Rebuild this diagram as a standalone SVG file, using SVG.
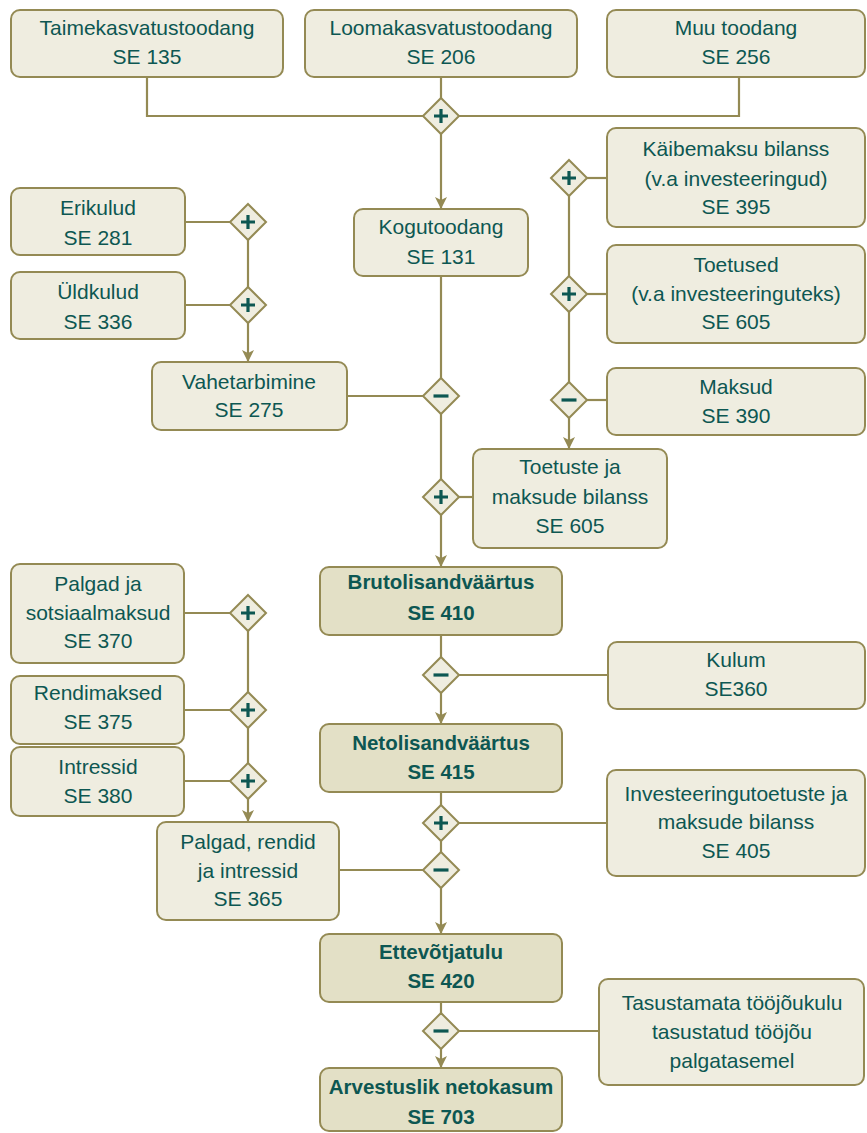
<svg xmlns="http://www.w3.org/2000/svg" width="867" height="1133" viewBox="0 0 867 1133">
<style>
.box{fill:#EFEDE0;stroke:#948A54;stroke-width:2}
.key{fill:#E3E0C6;stroke:#948A54;stroke-width:2}
.t{font-family:"Liberation Sans",Arial,sans-serif;font-size:21px;fill:#0D5752;text-anchor:middle}
.b{font-weight:bold;font-size:20.5px}
.ln{fill:none;stroke:#948A54;stroke-width:2.2}
.dm{fill:#EFEDE0;stroke:#948A54;stroke-width:2}
.sg{stroke:#0D5752;stroke-width:3.2;fill:none}
</style>
<defs>
<marker id="ah2" viewBox="0 0 12 12" refX="12" refY="6" markerWidth="12" markerHeight="12" markerUnits="userSpaceOnUse" orient="auto"><path d="M0,0 L12,6 L0,12 L3,6 z" fill="#948A54"/></marker>
<g id="plus"><path class="dm" d="M0,-18 L18,0 L0,18 L-18,0 Z"/><path class="sg" d="M-7,0 H7 M0,-7 V7"/></g>
<g id="minus"><path class="dm" d="M0,-18 L18,0 L0,18 L-18,0 Z"/><path class="sg" d="M-7.5,0 H7.5"/></g>
</defs>

<g id="connectors">
<path class="ln" d="M147,78 V116 H423"/>
<path class="ln" d="M441,78 V98"/>
<path class="ln" d="M739,78 V116 H459"/>
<path class="ln" d="M441,134 V209" marker-end="url(#ah2)"/>
<path class="ln" d="M185,222 H230"/>
<path class="ln" d="M185,305 H230"/>
<path class="ln" d="M248,240 V287"/>
<path class="ln" d="M248,323 V362" marker-end="url(#ah2)"/>
<path class="ln" d="M441,277 V378"/>
<path class="ln" d="M347,396 H423"/>
<path class="ln" d="M441,414 V479"/>
<path class="ln" d="M587,178 H607"/>
<path class="ln" d="M587,294 H607"/>
<path class="ln" d="M587,400 H607"/>
<path class="ln" d="M569,196 V276"/>
<path class="ln" d="M569,312 V382"/>
<path class="ln" d="M569,418 V449" marker-end="url(#ah2)"/>
<path class="ln" d="M473,497 H459"/>
<path class="ln" d="M441,515 V567" marker-end="url(#ah2)"/>
<path class="ln" d="M441,636 V657"/>
<path class="ln" d="M459,675 H608"/>
<path class="ln" d="M441,693 V724" marker-end="url(#ah2)"/>
<path class="ln" d="M184,613 H230"/>
<path class="ln" d="M184,710 H230"/>
<path class="ln" d="M184,781 H230"/>
<path class="ln" d="M248,631 V692"/>
<path class="ln" d="M248,728 V763"/>
<path class="ln" d="M248,799 V822" marker-end="url(#ah2)"/>
<path class="ln" d="M441,793 V805"/>
<path class="ln" d="M459,823 H607"/>
<path class="ln" d="M441,841 V852"/>
<path class="ln" d="M339,870 H423"/>
<path class="ln" d="M441,888 V934" marker-end="url(#ah2)"/>
<path class="ln" d="M441,1002 V1013"/>
<path class="ln" d="M459,1031 H599"/>
<path class="ln" d="M441,1049 V1068" marker-end="url(#ah2)"/>
</g>

<g id="ops">
<use href="#plus" x="441" y="116"/>
<use href="#plus" x="248" y="222"/>
<use href="#plus" x="248" y="305"/>
<use href="#minus" x="441" y="396"/>
<use href="#plus" x="569" y="178"/>
<use href="#plus" x="569" y="294"/>
<use href="#minus" x="569" y="400"/>
<use href="#plus" x="441" y="497"/>
<use href="#minus" x="441" y="675"/>
<use href="#plus" x="248" y="613"/>
<use href="#plus" x="248" y="710"/>
<use href="#plus" x="248" y="781"/>
<use href="#plus" x="441" y="823"/>
<use href="#minus" x="441" y="870"/>
<use href="#minus" x="441" y="1031"/>
</g>

<g id="n-taime"><rect class="box" x="11" y="10" width="272" height="67" rx="9"/>
<text class="t" x="147" y="35">Taimekasvatustoodang</text><text class="t" x="147" y="64">SE 135</text></g>
<g id="n-looma"><rect class="box" x="305" y="10" width="272" height="67" rx="9"/>
<text class="t" x="441" y="35">Loomakasvatustoodang</text><text class="t" x="441" y="64">SE 206</text></g>
<g id="n-muu"><rect class="box" x="607" y="10" width="258" height="67" rx="9"/>
<text class="t" x="736" y="35">Muu toodang</text><text class="t" x="736" y="64">SE 256</text></g>

<g id="n-koguto"><rect class="box" x="354" y="209" width="174" height="67" rx="9"/>
<text class="t" x="441" y="234">Kogutoodang</text><text class="t" x="441" y="264">SE 131</text></g>

<g id="n-erikulud"><rect class="box" x="11" y="188" width="174" height="67" rx="9"/>
<text class="t" x="98" y="215">Erikulud</text><text class="t" x="98" y="245">SE 281</text></g>
<g id="n-yldkulud"><rect class="box" x="11" y="272" width="174" height="67" rx="9"/>
<text class="t" x="98" y="299">Üldkulud</text><text class="t" x="98" y="329">SE 336</text></g>
<g id="n-vahet"><rect class="box" x="152" y="362" width="195" height="68" rx="9"/>
<text class="t" x="249" y="389">Vahetarbimine</text><text class="t" x="249" y="417">SE 275</text></g>

<g id="n-kaibe"><rect class="box" x="607" y="128" width="258" height="99" rx="9"/>
<text class="t" x="736" y="156">Käibemaksu bilanss</text><text class="t" x="736" y="186">(v.a investeeringud)</text><text class="t" x="736" y="214">SE 395</text></g>
<g id="n-toetused"><rect class="box" x="607" y="245" width="258" height="98" rx="9"/>
<text class="t" x="736" y="272">Toetused</text><text class="t" x="736" y="301">(v.a investeeringuteks)</text><text class="t" x="736" y="329">SE 605</text></g>
<g id="n-maksud"><rect class="box" x="607" y="368" width="258" height="67" rx="9"/>
<text class="t" x="736" y="394">Maksud</text><text class="t" x="736" y="423">SE 390</text></g>
<g id="n-tmbil"><rect class="box" x="473" y="449" width="194" height="99" rx="9"/>
<text class="t" x="570" y="474">Toetuste ja</text><text class="t" x="570" y="504">maksude bilanss</text><text class="t" x="570" y="533">SE 605</text></g>

<g id="n-bruto"><rect class="key" x="320" y="567" width="242" height="68" rx="9"/>
<text class="t b" x="441" y="589">Brutolisandväärtus</text><text class="t b" x="441" y="620">SE 410</text></g>
<g id="n-kulum"><rect class="box" x="608" y="642" width="257" height="67" rx="9"/>
<text class="t" x="736" y="667">Kulum</text><text class="t" x="736" y="696">SE360</text></g>
<g id="n-neto"><rect class="key" x="320" y="724" width="242" height="68" rx="9"/>
<text class="t b" x="441" y="750">Netolisandväärtus</text><text class="t b" x="441" y="779">SE 415</text></g>

<g id="n-palgad"><rect class="box" x="11" y="564" width="173" height="99" rx="9"/>
<text class="t" x="98" y="591">Palgad ja</text><text class="t" x="98" y="620">sotsiaalmaksud</text><text class="t" x="98" y="648">SE 370</text></g>
<g id="n-rendi"><rect class="box" x="11" y="676" width="173" height="68" rx="9"/>
<text class="t" x="98" y="700">Rendimaksed</text><text class="t" x="98" y="729">SE 375</text></g>
<g id="n-intressid"><rect class="box" x="11" y="747" width="173" height="69" rx="9"/>
<text class="t" x="98" y="774">Intressid</text><text class="t" x="98" y="803">SE 380</text></g>
<g id="n-pri"><rect class="box" x="157" y="822" width="182" height="98" rx="9"/>
<text class="t" x="248" y="849">Palgad, rendid</text><text class="t" x="248" y="878">ja intressid</text><text class="t" x="248" y="906">SE 365</text></g>

<g id="n-invest"><rect class="box" x="607" y="770" width="258" height="106" rx="9"/>
<text class="t" x="736" y="801">Investeeringutoetuste ja</text><text class="t" x="736" y="829">maksude bilanss</text><text class="t" x="736" y="858">SE 405</text></g>

<g id="n-ettev"><rect class="key" x="320" y="934" width="242" height="68" rx="9"/>
<text class="t b" x="441" y="959">Ettevõtjatulu</text><text class="t b" x="441" y="988">SE 420</text></g>
<g id="n-tasu"><rect class="box" x="599" y="979" width="265" height="106" rx="9"/>
<text class="t" x="732" y="1010">Tasustamata tööjõukulu</text><text class="t" x="732" y="1039">tasustatud tööjõu</text><text class="t" x="732" y="1068">palgatasemel</text></g>
<g id="n-arv"><rect class="key" x="320" y="1068" width="242" height="63" rx="9"/>
<text class="t b" x="441" y="1094">Arvestuslik netokasum</text><text class="t b" x="441" y="1124">SE 703</text></g>
</svg>
